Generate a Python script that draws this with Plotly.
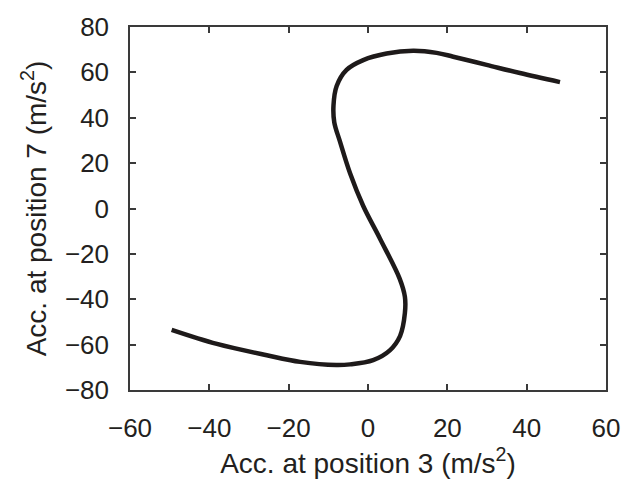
import plotly.graph_objects as go

# Trajectory (acceleration at position 3 vs position 7)
acc_pos3 = [-49.5, -38.1, -25.5, -17.1, -8.0, -4.5, 1.3, 5.5, 8.1, 9.3, 9.3, 8.0, 3.0,
            -1.2, -4.5, -7.1, -8.5, -8.7, -7.9, -5.4, -1.2, 4.7, 11.4, 17.3, 21.5, 29.9, 38.3, 48.4]
acc_pos7 = [-53.5, -59.7, -64.7, -67.6, -69.0, -68.7, -66.8, -62.5, -56.1, -46.1, -38.9, -31.0, -13.2,
            1.1, 15.4, 29.7, 38.0, 45.4, 54.0, 61.1, 65.4, 68.3, 69.5, 68.6, 66.9, 63.3, 59.7, 55.7]

x_ticks = [-60, -40, -20, 0, 20, 40, 60]
y_ticks = [-80, -60, -40, -20, 0, 20, 40, 60, 80]

font = dict(family="Liberation Sans, Arial, sans-serif", size=26, color="#231f20")
title_font = dict(family="Liberation Sans, Arial, sans-serif", size=28, color="#231f20")

fig = go.Figure()
fig.add_trace(go.Scatter(
    x=acc_pos3, y=acc_pos7, mode="lines",
    line=dict(color="#1e1a1a", width=4.5, shape="spline", smoothing=1.0),
    showlegend=False,
))

axis_common = dict(
    showgrid=False, zeroline=False, showline=True, linecolor="#3a3a3a", linewidth=1.5,
    mirror="ticks", ticks="inside", ticklen=6, tickwidth=1.5, tickcolor="#3a3a3a",
    tickfont=font,
)

fig.update_xaxes(range=[-60, 60], tickvals=x_ticks, ticktext=[str(v).replace("-", "\u2212") for v in x_ticks],
                 title=dict(text="Acc. at position 3 (m/s<sup>2</sup>)", font=title_font, standoff=10),
                 ticklabelstandoff=14, **axis_common)
fig.update_yaxes(range=[-80, 80], tickvals=y_ticks, ticktext=[str(v).replace("-", "\u2212") for v in y_ticks],
                 title=dict(text="Acc. at position 7 (m/s<sup>2</sup>)", font=title_font, standoff=10),
                 ticklabelstandoff=14, **axis_common)

fig.update_layout(
    width=634, height=485,
    margin=dict(l=130, r=28, t=23, b=89),
    paper_bgcolor="white", plot_bgcolor="white",
    font=font,
)

fig.write_html("out.html")
